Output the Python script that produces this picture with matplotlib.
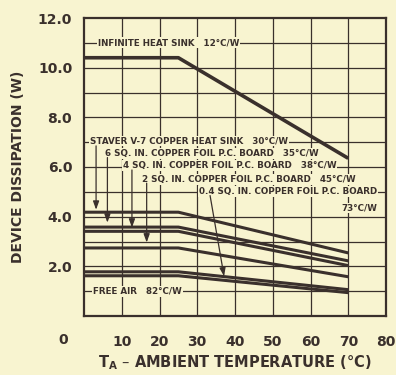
import matplotlib
matplotlib.use("Agg")
import matplotlib.pyplot as plt

# ambient temperature breakpoints (deg C)
temps = [0, 25, 70]

# device dissipation (W)
infinite_12 = [10.4, 10.4, 6.35]
staver_30 = [4.18, 4.18, 2.54]
sq6_35 = [3.58, 3.58, 2.22]
sq4_38 = [3.41, 3.41, 2.03]
sq2_45 = [2.74, 2.74, 1.58]
sq04_73 = [1.78, 1.78, 1.06]
free_air_82 = [1.62, 1.62, 0.94]

x_ticks = [10, 20, 30, 40, 50, 60, 70, 80]
y_ticks = [2, 4, 6, 8, 10, 12]

BG = "#f8f4d0"
INK = "#3a302c"
FONT = ["Liberation Sans Narrow", "DejaVu Sans"]

plt.rcParams["font.family"] = FONT
plt.rcParams["font.weight"] = "bold"
plt.rcParams["axes.labelweight"] = "bold"

fig = plt.figure(figsize=(3.96, 3.75), dpi=100, facecolor=BG)
ax = fig.add_axes([84 / 396, 1 - 316 / 375, 302 / 396, 298 / 375], facecolor=BG)

ax.set_xlim(0, 80)
ax.set_ylim(0, 12)

# grid: every 10 deg, every 1 W
for gx in range(10, 80, 10):
    ax.axvline(gx, color=INK, lw=0.9, zorder=1)
for gy in range(1, 12):
    ax.axhline(gy, color=INK, lw=0.9, zorder=1)

ax.plot(temps, infinite_12, color=INK, lw=2.6, zorder=3, solid_capstyle="butt")
for series in [staver_30, sq6_35, sq4_38, sq2_45, sq04_73, free_air_82]:
    ax.plot(temps, series, color=INK, lw=2.2, zorder=3, solid_capstyle="butt")

box = dict(facecolor=BG, edgecolor="none", pad=0.6)
txt = dict(fontsize=6.3, color=INK, va="center", ha="left", zorder=4, bbox=box)

ax.text(3.7, 11.0, "INFINITE HEAT SINK   12°C/W", **txt)
ax.text(1.6, 7.05, "STAVER V-7 COPPER HEAT SINK   30°C/W", **txt)
ax.text(5.6, 6.55, "6 SQ. IN. COPPER FOIL P.C. BOARD   35°C/W", **txt)
ax.text(10.2, 6.05, "4 SQ. IN. COPPER FOIL P.C. BOARD   38°C/W", **txt)
ax.text(15.4, 5.5, "2 SQ. IN. COPPER FOIL P.C. BOARD   45°C/W", **txt)
ax.text(30.4, 5.0, "0.4 SQ. IN. COPPER FOIL P.C. BOARD", **txt)
ax.text(77.6, 4.35, "73°C/W", **{**txt, "ha": "right"})
ax.text(2.4, 1.0, "FREE AIR   82°C/W", **txt)

arrow = dict(arrowstyle="-|>,head_length=0.5,head_width=0.18", color=INK, lw=0.9,
             shrinkA=0, shrinkB=0)
ax.annotate("", xy=(3.2, 4.28), xytext=(3.2, 6.85), arrowprops=arrow, zorder=5)
ax.annotate("", xy=(6.2, 3.76), xytext=(6.2, 6.38), arrowprops=arrow, zorder=5)
ax.annotate("", xy=(12.7, 3.56), xytext=(12.7, 5.88), arrowprops=arrow, zorder=5)
ax.annotate("", xy=(16.6, 2.96), xytext=(16.6, 5.35), arrowprops=arrow, zorder=5)
ax.annotate("", xy=(37.1, 1.6), xytext=(33.4, 4.85), arrowprops=arrow, zorder=5)

for s in ax.spines.values():
    s.set_color(INK)
    s.set_linewidth(1.6)
    s.set_zorder(6)

ax.set_xticks(x_ticks)
ax.set_xticklabels([str(v) for v in x_ticks])
ax.set_yticks(y_ticks)
ax.set_yticklabels([f"{v:.1f}" for v in y_ticks])
ax.tick_params(length=0, labelsize=10, labelcolor=INK, pad=8.5)
ax.tick_params(axis="x", pad=14)

ax.annotate("0", xy=(0, 0), xytext=(-15, -17), textcoords="offset points",
            ha="center", va="center", fontsize=10, color=INK, annotation_clip=False)

ax.set_xlabel("T$_\\mathregular{A}$ – AMBIENT TEMPERATURE (°C)", fontsize=10.5,
              color=INK, labelpad=3)
ax.set_ylabel("DEVICE DISSIPATION (W)", fontsize=10, color=INK, labelpad=9)

fig.savefig("out.png", dpi=100, facecolor=BG)
